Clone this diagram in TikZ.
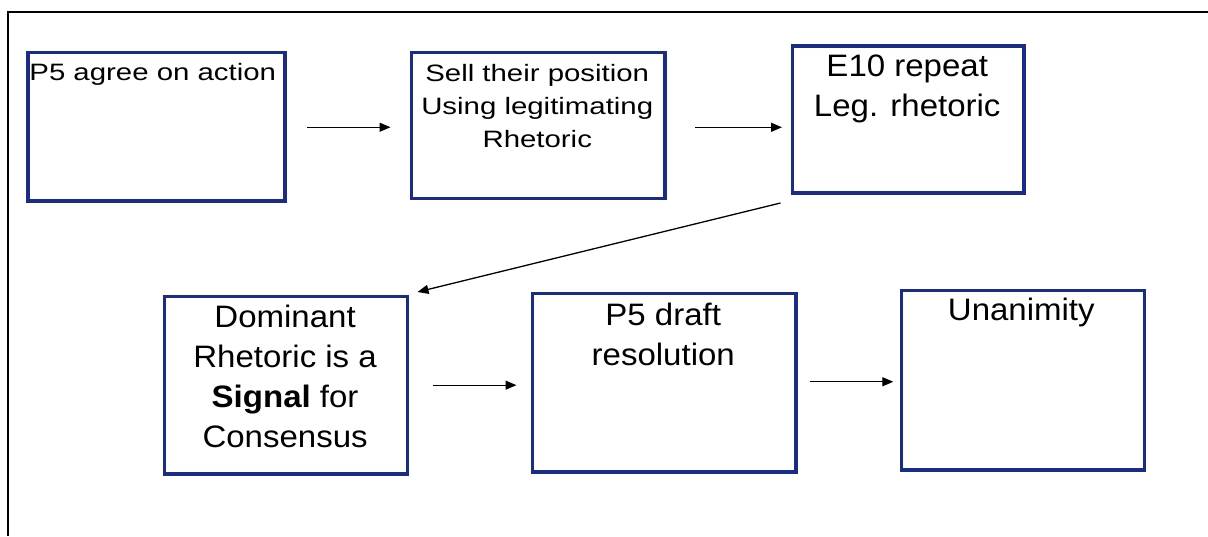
\documentclass[tikz,border=0pt]{standalone}
\usepackage{fontspec}
\setmainfont{Liberation Sans}
\newfontfamily\fontA[FakeStretch=1.24]{Liberation Sans}
\newfontfamily\fontB[FakeStretch=1.065]{Liberation Sans}
\usetikzlibrary{arrows.meta,calc}
\definecolor{boxblue}{RGB}{26,44,136}
\begin{document}
\begin{tikzpicture}[x=1pt,y=-1pt,
  frame/.style={draw=black,line width=2pt},
  box/.style={draw=boxblue,line width=3.5pt,inner sep=0pt,outer sep=0pt,anchor=north west},
  txtA/.style={font=\fontA\fontsize{23.7}{33}\selectfont,inner sep=0pt,outer sep=0pt,align=center,text=black},
  txtB/.style={font=\fontB\fontsize{31}{40}\selectfont,inner sep=0pt,outer sep=0pt,align=center,text=black},
  arr/.style={draw=black,line width=1.3pt,-{Triangle[length=11pt,width=9pt]}}]
\useasboundingbox (0,0) rectangle (1208,536);
\fill[white] (0,0) rectangle (1208,536);
% outer frame (top and left edges)
\draw[frame] (1208,11.7) -- (8.3,11.7) -- (8.3,536);
% boxes
\node[box,minimum width=257pt,minimum height=148.5pt] (b1) at (28,52.5) {};
\node[box,minimum width=253.5pt,minimum height=146.2pt] (b2) at (411.5,52.5) {};
\node[box,minimum width=231.5pt,minimum height=147pt] (b3) at (792.5,46) {};
\node[box,minimum width=242.8pt,minimum height=177.7pt] (b4) at (164.7,296.3) {};
\node[box,minimum width=263.5pt,minimum height=178.5pt] (b5) at (532.5,293.5) {};
\node[box,minimum width=243pt,minimum height=179.5pt] (b6) at (901.3,290.5) {};
% texts
\node[txtA,anchor=north west] (t1) at ($(b1.north west)+(1.4,10.5)$) {P5 agree on action};
\node[txtA,anchor=north] (t2) at ($(b2.north)+(-1,11.5)$) {Sell their position\\Using legitimating\\Rhetoric};
\node[txtB,anchor=north] (t3) at ($(b3.north)+(-1,9)$) {E10 repeat\\Leg. rhetoric};
\node[txtB,anchor=north] (t4) at ($(b4.north)+(-1,8.7)$) {Dominant\\Rhetoric is a\\\textbf{Signal} for\\Consensus};
\node[txtB,anchor=north] (t5) at ($(b5.north)+(-1,9.5)$) {P5 draft\\resolution};
\node[txtB,anchor=north] (t6) at ($(b6.north)+(-1.5,7.5)$) {Unanimity};
% connectors
\draw[arr] ($(b1.east)+(22,0.5)$) -- ($(b2.west |- b1.east)+(-21,0.5)$);
\draw[arr] ($(b2.east)+(30,1.7)$) -- ($(b3.west |- b2.east)+(-10.5,1.7)$);
\draw[arr] ($(b3.south west)+(-12,10)$) -- ($(b4.north east)+(10,-4.3)$);
\draw[arr] ($(b4.east)+(25,0)$) -- ($(b5.west |- b4.east)+(-16,0)$);
\draw[arr] ($(b5.east)+(14,-1)$) -- ($(b6.west |- b5.east)+(-8,-1)$);
\end{tikzpicture}
\end{document}
